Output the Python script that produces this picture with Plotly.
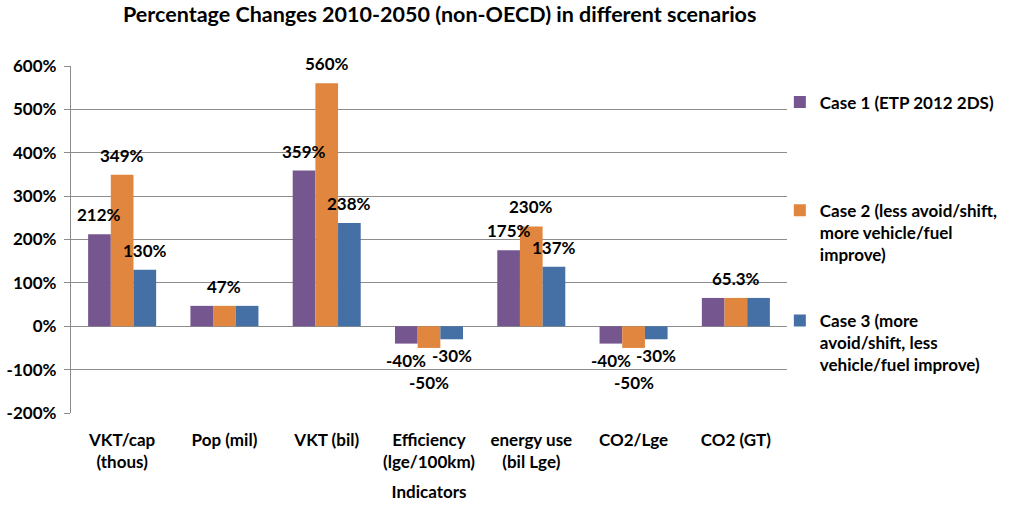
import plotly.graph_objects as go

categories = ["VKT/cap<br>(thous)", "Pop (mil)", "VKT (bil)", "Efficiency<br>(lge/100km)",
              "energy use<br>(bil Lge)", "CO2/Lge", "CO2 (GT)"]
series_names = ["Case 1 (ETP 2012 2DS)",
                "Case 2 (less avoid/shift,<br>more vehicle/fuel<br>improve)",
                "Case 3 (more<br>avoid/shift, less<br>vehicle/fuel improve)"]
case1 = [212, 47, 359, -40, 175, -40, 65.3]
case2 = [349, 47, 560, -50, 230, -50, 65.3]
case3 = [130, 47, 238, -30, 137, -30, 65.3]
labels1 = ["212%", "", "359%", "-40%", "175%", "-40%", ""]
labels2 = ["349%", "47%", "560%", "-50%", "230%", "-50%", "65.3%"]
labels3 = ["130%", "", "238%", "-30%", "137%", "-30%", ""]
y_ticks = [-200, -100, 0, 100, 200, 300, 400, 500, 600]

colors = ["#75568F", "#E0863E", "#4470A5"]
FONT = "Lato"
FS = 17
GRID = "#8c8c8c"
BARGAP = 0.335

values = [case1, case2, case3]
labels = [labels1, labels2, labels3]
legend_ids = ["legend", "legend2", "legend3"]

fig = go.Figure()
for i in range(3):
    fig.add_trace(go.Bar(
        x=categories, y=values[i], name=series_names[i],
        marker=dict(color=colors[i], line=dict(width=0)),
        legend=legend_ids[i], showlegend=True,
    ))

# data labels through the category scale
n = 3
bw = (1 - BARGAP) / n
annotations = []
for i in range(n):
    for j, (v, t) in enumerate(zip(values[i], labels[i])):
        if not t:
            continue
        xpos = j + (i - (n - 1) / 2) * bw
        if v >= 0:
            annotations.append(dict(x=xpos, y=v, xref="x", yref="y", text=t, showarrow=False,
                                    yanchor="bottom", yshift=7))
        else:
            shift = -22 if i == 1 else -4
            annotations.append(dict(x=xpos, y=v, xref="x", yref="y", text=t, showarrow=False,
                                    yanchor="top", yshift=shift))

leg_common = dict(font=dict(family=FONT, size=FS, color="#000000", weight="bold"),
                  bgcolor="rgba(0,0,0,0)", xanchor="left", yanchor="top", valign="top",
                  x=0.99)

fig.update_layout(
    width=1024, height=505,
    margin=dict(l=71, r=237, t=66, b=92, autoexpand=False),
    showlegend=True,
    paper_bgcolor="white", plot_bgcolor="white",
    font=dict(family=FONT, size=FS, color="#000000", weight="bold"),
    barmode="group", bargap=BARGAP, bargroupgap=0,
    title=dict(text="Percentage Changes 2010-2050 (non-OECD) in different scenarios",
               x=0.515, xref="paper", xanchor="center", y=0.986, yanchor="top",
               font=dict(family=FONT, size=21.5, color="#000000", weight="bold")),
    annotations=annotations,
    legend=dict(**leg_common, y=0.947),
    legend2=dict(**leg_common, y=0.635),
    legend3=dict(**leg_common, y=0.317),
    xaxis=dict(type="category", range=[-0.5, 6.5], showgrid=False, ticks="",
               showline=False, zeroline=False, ticklabelstandoff=15, automargin=False,
               title=dict(text="Indicators", standoff=15,
                          font=dict(family=FONT, size=FS, color="#000000", weight="bold"))),
    xaxis2=dict(overlaying="x", anchor="free", position=0.25, range=[-0.5, 6.5],
                tickmode="array", tickvals=[k - 0.5 for k in range(len(categories) + 1)],
                ticks="outside", ticklen=6, tickcolor=GRID, tickwidth=1.3,
                showticklabels=False, showgrid=False, showline=False, zeroline=False,
                automargin=False),
    yaxis=dict(range=[-200, 600], tickmode="array", tickvals=y_ticks,
               ticktext=[f"{v}%" for v in y_ticks], automargin=False,
               showgrid=True, gridcolor=GRID, gridwidth=1.3,
               zeroline=True, zerolinecolor=GRID, zerolinewidth=1.3,
               showline=True, linecolor=GRID, linewidth=1.3,
               ticks="outside", ticklen=6, tickcolor=GRID, tickwidth=1.3,
               ticklabelstandoff=4),
)

fig.write_html("out.html", config={"displayModeBar": False},
               post_script="document.body.style.margin='0';document.body.style.overflow='hidden';")
